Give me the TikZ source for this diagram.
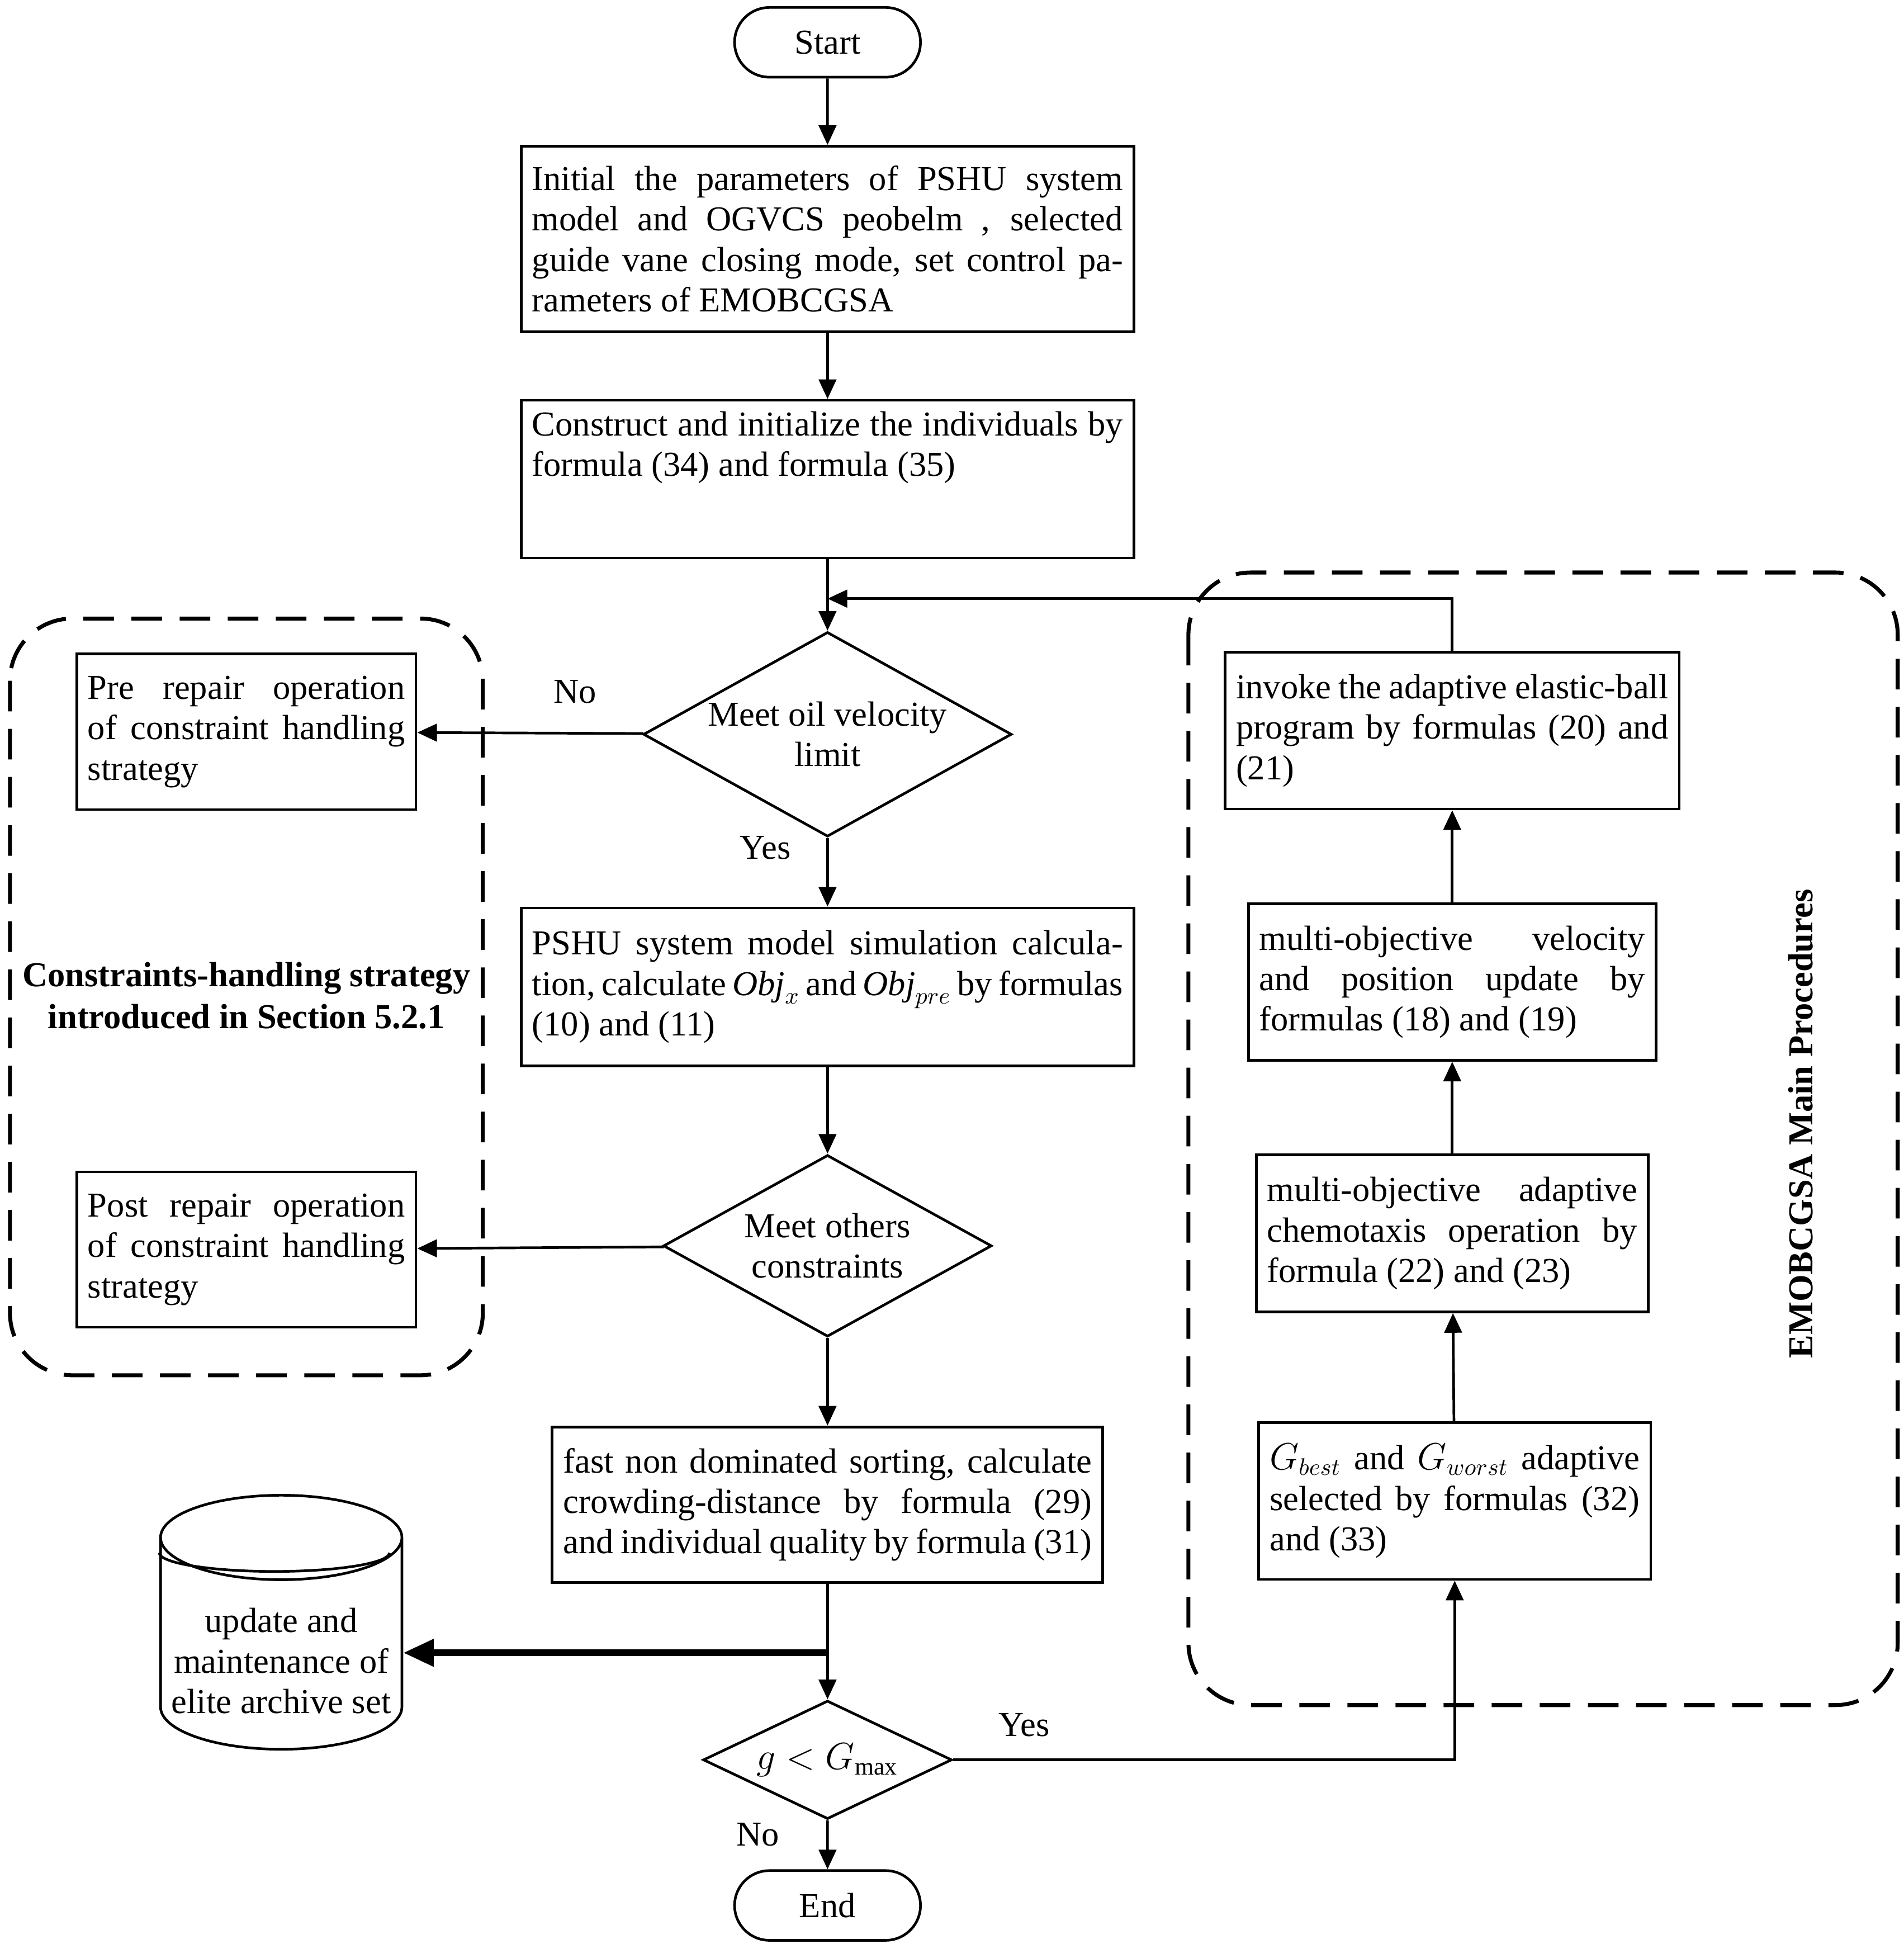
\documentclass[tikz,border=0pt]{standalone}
\usepackage{amsmath,amssymb,fontspec}
\setmainfont{Liberation Serif}
\usetikzlibrary{shapes.geometric,shapes.misc,arrows.meta,positioning}
\tikzset{
  base/.style={draw,line width=1.2pt,font=\fontsize{16}{18.5}\selectfont,inner sep=5pt},
  box/.style={base,rectangle,align=justify,text width=#1},
  term/.style={base,rounded rectangle,minimum width=3.34cm,minimum height=1.12cm},
  dec/.style={base,diamond,aspect=1.8,align=center,inner sep=1pt},
  arr/.style={-{Triangle[length=9pt,width=8pt]},line width=1.2pt},
  lbl/.style={font=\fontsize{16}{18.5}\selectfont},
  group/.style={dashed,dash pattern=on 14pt off 8pt,line width=1.8pt,rounded corners=1cm}
}
\begin{document}
\begin{tikzpicture}[x=0.02cm,y=-0.02cm]
\useasboundingbox (0,0) rectangle (1530,1566);
% groups
\draw[group] (8,497) rectangle (388,1105);
\draw[group] (955,460) rectangle (1525,1370);
\node[font=\fontsize{16}{19}\selectfont\bfseries,align=center] at (198,800)
  {Constraints-handling strategy\\introduced in Section 5.2.1};
\node[font=\fontsize{16}{19}\selectfont\bfseries,rotate=90] at (1447,903) {EMOBCGSA Main Procedures};
% main column
\node[term] (start) at (665,34) {Start};
\node[box=9.5cm,minimum height=2.98cm] (init) at (665,192)
  {Initial the parameters of PSHU system model and OGVCS peobelm , selected guide vane closing mode, set control parameters of EMOBCGSA};
\node[box=9.5cm,minimum height=2.5cm] (cons) at (665,385)
  {Construct and initialize the individuals by formula (34) and formula (35)\\[14pt]};
\node[dec,minimum width=5.28cm,minimum height=2.92cm] (oil) at (665,590) {Meet oil velocity\\limit};
\node[box=9.5cm,minimum height=2.54cm] (sim) at (665,793)
  {PSHU system model simulation calculation, calculate $\mathit{Obj}_x$ and $\mathit{Obj}_{pre}$ by formulas (10) and (11)};
\node[dec,minimum width=5.28cm,minimum height=2.92cm] (oth) at (665,1001) {Meet others\\constraints};
\node[box=8.5cm,minimum height=2.5cm] (sort) at (665,1209)
  {fast non dominated sorting, calculate crowding-distance by formula (29) and individual quality by formula (31)};
\node[dec,minimum width=4cm,minimum height=1.68cm] (gen) at (665,1414) {$g<G_{\max}$};
\node[term] (end) at (665,1531) {End};
% left column
\node[box=5.1cm,minimum height=2.5cm] (pre) at (198,588)
  {Pre repair operation of constraint handling strategy};
\node[box=5.1cm,minimum height=2.5cm] (post) at (198,1004)
  {Post repair operation of constraint handling strategy};
\node[base,cylinder,shape border rotate=90,aspect=0.35,minimum width=3.7cm,minimum height=3.3cm,align=center] (arch) at (226,1328)
  {\\update and\\maintenance of\\elite archive set};
\draw[line width=1.2pt] ([yshift=-7pt]arch.before top) arc[start angle=180,end angle=360,x radius=1.85cm,y radius=0.3cm];
% right column
\node[box=6.95cm,minimum height=2.52cm] (ball) at (1167,587)
  {invoke the adaptive elastic-ball program by formulas (20) and (21)};
\node[box=6.2cm,minimum height=2.52cm] (vel) at (1167,789)
  {multi-objective velocity and position update by formulas (18) and (19)};
\node[box=5.95cm,minimum height=2.52cm] (chem) at (1167,991)
  {multi-objective adaptive chemotaxis operation by formula (22) and (23)};
\node[box=5.95cm,minimum height=2.52cm] (gsel) at (1169,1206)
  {$G_{best}$ and $G_{worst}$ adaptive selected by formulas (32) and (33)};
% connectors
\coordinate (jn) at (665,481);
\coordinate (ja) at (665,1328);
\draw[arr] (start) -- (init);
\draw[arr] (init) -- (cons);
\draw[arr] (cons) -- (oil);
\draw[arr] (oil) -- (sim);
\draw[arr] (oil) -- (pre);
\draw[arr] (sim) -- (oth);
\draw[arr] (oth) -- (post);
\draw[arr] (oth) -- (sort);
\draw[arr] (sort) -- (gen);
\draw[arr] (gen) -- (end);
\draw[-{Triangle[length=14pt,width=12pt]},line width=3pt] (ja) -- (arch.east|-ja);
\draw[arr] (gen.east) -| (gsel.south);
\draw[arr] (gsel) -- (chem);
\draw[arr] (chem) -- (vel);
\draw[arr] (vel) -- (ball);
\draw[arr] (ball.north) |- (jn);
\node[lbl] at (462,556) {No};
\node[lbl] at (615,681) {Yes};
\node[lbl] at (823,1386) {Yes};
\node[lbl] at (609,1474) {No};
\end{tikzpicture}
\end{document}
